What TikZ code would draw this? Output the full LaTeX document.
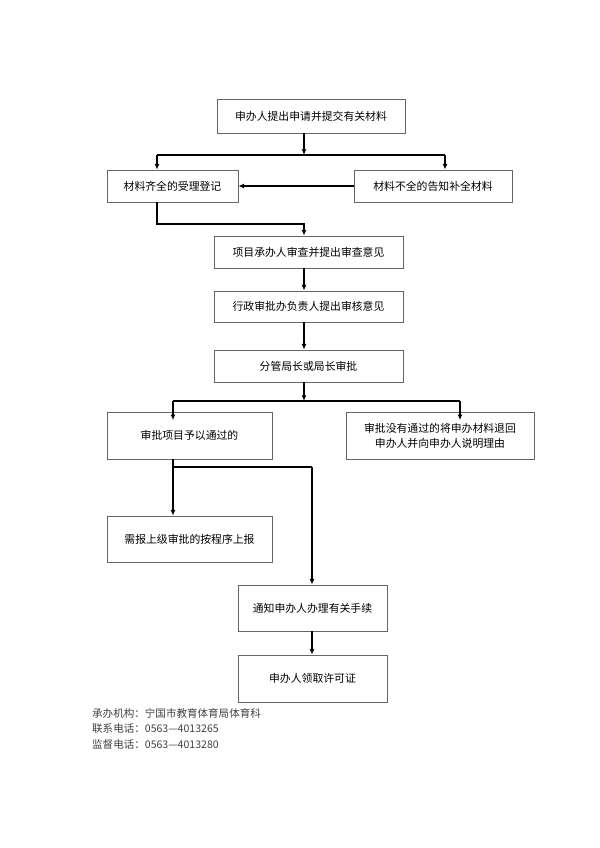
\documentclass[tikz,border=0pt]{standalone}
\usepackage{fontspec}
\newfontfamily\cjk{Noto Sans CJK SC}
\usetikzlibrary{arrows.meta}
\begin{document}
\begin{tikzpicture}[x=0.035cm,y=-0.035cm,
    box/.style={draw=black!60,line width=0.7pt,rectangle,inner sep=0pt,
      font=\cjk\fontsize{10.8}{15}\selectfont,align=center},
    arr/.style={line width=1.5pt,-{Latex[length=2mm,width=1.7mm]}},
    ln/.style={line width=1.5pt},
    note/.style={anchor=west,inner sep=0pt,text=black!75,
      font=\cjk\fontsize{10.5}{12}\selectfont}]
  \useasboundingbox (0,0) rectangle (600,848);
  \draw
    (311,116) node[box,minimum width=188*0.35mm,minimum height=34*0.35mm] (a){申办人提出申请并提交有关材料}
    (172.5,186) node[box,minimum width=131*0.35mm,minimum height=32*0.35mm] (b){材料齐全的受理登记}
    (433,186) node[box,minimum width=158*0.35mm,minimum height=32*0.35mm] (c){材料不全的告知补全材料}
    (308.5,252) node[box,minimum width=189*0.35mm,minimum height=32*0.35mm] (d){项目承办人审查并提出审查意见}
    (308.5,306.5) node[box,minimum width=189*0.35mm,minimum height=31*0.35mm] (e){行政审批办负责人提出审核意见}
    (308.5,366) node[box,minimum width=189*0.35mm,minimum height=32*0.35mm] (f){分管局长或局长审批}
    (189.5,435.5) node[box,minimum width=165*0.35mm,minimum height=47*0.35mm] (g){审批项目予以通过的}
    (440,435.5) node[box,minimum width=188*0.35mm,minimum height=47*0.35mm] (h){审批没有通过的将申办材料退回\\申办人并向申办人说明理由}
    (189.5,539) node[box,minimum width=165*0.35mm,minimum height=46*0.35mm] (i){需报上级审批的按程序上报}
    (312.5,608) node[box,minimum width=149*0.35mm,minimum height=46*0.35mm] (j){通知申办人办理有关手续}
    (312.5,678.5) node[box,minimum width=149*0.35mm,minimum height=47*0.35mm] (k){申办人领取许可证};
  \node[note] (n1) at (92,713) {承办机构：宁国市教育体育局体育科};
  \node[note] (n2) at (92,729) {联系电话：0563—4013265};
  \node[note] (n3) at (92,744) {监督电话：0563—4013280};
  % junctions
  \coordinate (s1) at (304,155);
  \coordinate (s2) at (157,155);
  \coordinate (s3) at (445,155);
  \coordinate (t1) at (157,224);
  \coordinate (t2) at (304,224);
  \coordinate (u1) at (304,401);
  \coordinate (u2) at (173,401);
  \coordinate (u3) at (460,401);
  \coordinate (v1) at (173,467);
  \coordinate (v2) at (312,467);
  \begin{scope}[arr]
    \draw (a.south -| s1) to (s1);
    \draw (s2) to (s2 |- b.north);
    \draw (s3) to (s3 |- c.north);
    \draw (c) to (b);
    \draw (b.south -| t1) -- (t1) -- (t2) -- (t2 |- d.north);
    \draw (d.south -| t2) to (t2 |- e.north);
    \draw (e.south -| t2) to (t2 |- f.north);
    \draw (f.south -| u1) to (u1);
    \draw[shorten >=-3mm] (u2) to (u2 |- g.north);
    \draw[shorten >=-3mm] (u3) to (u3 |- h.north);
    \draw (g.south -| v1) to (v1 |- i.north);
    \draw (v2) to (v2 |- j.north);
    \draw (j.south -| v2) to (v2 |- k.north);
  \end{scope}
  \begin{scope}[ln]
    \draw (s2) to (s3);
    \draw (u2) to (u3);
    \draw (v1) to (v2);
  \end{scope}
\end{tikzpicture}
\end{document}
